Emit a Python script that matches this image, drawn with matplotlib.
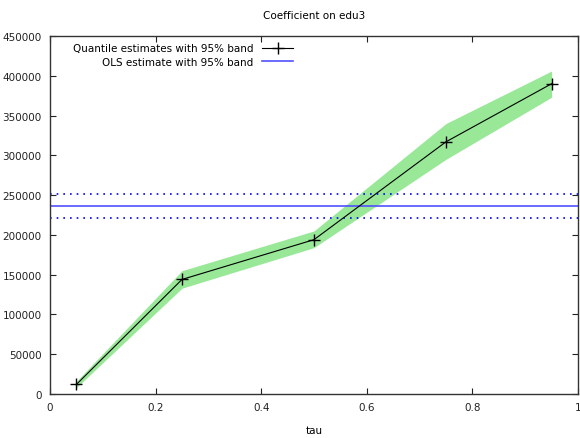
import numpy as np
import matplotlib
matplotlib.use("Agg")
import matplotlib.pyplot as plt

# quantile estimates
tau = [0.05, 0.25, 0.5, 0.75, 0.95]
coef = [12000, 144000, 194000, 317000, 390000]
lower = [8000, 133000, 184000, 295000, 373000]
upper = [16000, 155000, 205000, 340000, 406000]

# OLS estimate and band
ols = 236000
ols_lo = 221000
ols_hi = 251000

plt.rcParams['font.family'] = ['DejaVu Sans']
plt.rcParams['font.size'] = 7.5

fig = plt.figure(figsize=(5.8, 4.39), dpi=100)
ax = fig.add_axes([50/580, 1-395/439, 528/580, 358/439])

ax.fill_between(tau, lower, upper, color='#98e898', lw=0, zorder=1)
ax.plot(tau, coef, color='black', lw=0.8, marker='+', ms=9, mew=1.0,
        label='Quantile estimates with 95% band', zorder=3)
ax.axhline(ols, color='#5050ff', lw=1.2, label='OLS estimate with 95% band', zorder=2)
ax.axhline(ols_lo, color='#0000ff', lw=1.2, ls=(0, (1, 3)), zorder=2)
ax.axhline(ols_hi, color='#0000ff', lw=1.2, ls=(0, (1, 3)), zorder=2)

ax.set_xlim(0, 1)
ax.set_ylim(0, 450000)
ax.set_xticks([0, 0.2, 0.4, 0.6, 0.8, 1])
ax.set_xticklabels(['0', '0.2', '0.4', '0.6', '0.8', '1'])
ax.set_yticks(range(0, 450001, 50000))
ax.tick_params(direction='in', length=4, width=0.8, top=True, right=True, pad=6, colors='#222222')
for s in ax.spines.values():
    s.set_linewidth(1.0)
    s.set_color('#333333')

ax.set_xlabel('tau', labelpad=9)
ax.set_title('Coefficient on edu3', pad=13, fontsize=7.5)

ax.legend(loc='upper left', bbox_to_anchor=(0.03, 1.0), markerfirst=False, frameon=False,
          handlelength=3.0, handletextpad=0.8, labelspacing=0.35, borderaxespad=0.3)

fig.savefig('out.png', dpi=100)
